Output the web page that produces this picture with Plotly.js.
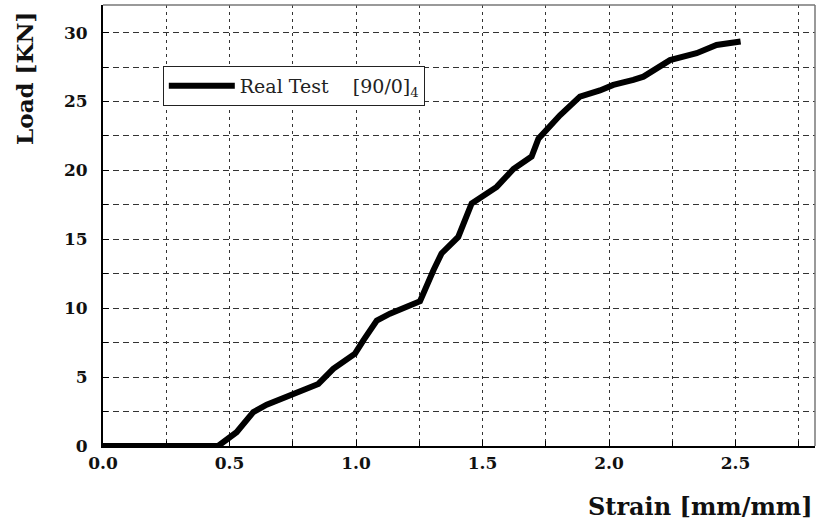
<!DOCTYPE html>
<html>
<head>
<meta charset="utf-8">
<script src="https://cdn.plot.ly/plotly-3.0.1.min.js"></script>
<style>html,body{margin:0;padding:0;background:#fff;}#chart{width:824px;height:529px;}</style>
</head>
<body>
<div id="chart"></div>
<script>
// Strain [mm/mm]
const strain = [0.0, 0.455, 0.528, 0.594, 0.647, 0.739, 0.851, 0.91, 0.996, 1.029, 1.082, 1.134, 1.253, 1.306, 1.338, 1.404, 1.457, 1.556, 1.622, 1.694, 1.721, 1.806, 1.885, 1.964, 2.017, 2.096, 2.136, 2.241, 2.346, 2.425, 2.52];
// Load [KN]
const load = [0.0, 0.0, 1.0, 2.46, 3.0, 3.67, 4.5, 5.6, 6.7, 7.67, 9.1, 9.6, 10.5, 12.75, 13.97, 15.17, 17.6, 18.8, 20.1, 21.0, 22.3, 24.0, 25.35, 25.8, 26.2, 26.56, 26.8, 28.0, 28.5, 29.1, 29.35];
const seriesName = 'Real Test&nbsp;&nbsp;&nbsp;&nbsp;[90/0]<sub>4</sub>';
const xTickVals = [0, 0.5, 1.0, 1.5, 2.0, 2.5];
const xTickText = ['0.0', '0.5', '1.0', '1.5', '2.0', '2.5'];
const yTickVals = [0, 5, 10, 15, 20, 25, 30];

const serif = 'DejaVu Serif, Liberation Serif, serif';

const trace = {
  x: strain, y: load, type: 'scatter', mode: 'lines', name: seriesName,
  line: {color: '#000', width: 6}, showlegend: true
};

const gridCol = '#333';
const layout = {
  width: 824, height: 529,
  margin: {l: 103, r: 9, t: 5, b: 83},
  paper_bgcolor: '#fff', plot_bgcolor: '#fff',
  font: {family: serif, color: '#111'},
  showlegend: true,
  legend: {
    x: 0.084, y: 0.862, xanchor: 'left', yanchor: 'top',
    bgcolor: '#fff', bordercolor: '#222', borderwidth: 1,
    font: {family: serif, size: 19, color: '#222'},
    itemwidth: 66, tracegroupgap: 0
  },
  xaxis: {
    range: [0, 2.814], tickvals: xTickVals, ticktext: xTickText,
    showgrid: true, gridcolor: gridCol, gridwidth: 1, griddash: '3px,4px',
    ticks: 'inside', ticklen: 6, tickcolor: '#000', tickwidth: 1,
    minor: {dtick: 0.25, tick0: 0, ticks: 'inside', ticklen: 5, tickcolor: '#000', showgrid: true, gridcolor: gridCol, gridwidth: 1, griddash: '3px,4px'},
    showline: true, linecolor: '#000', linewidth: 2, mirror: false,
    zeroline: false,
    tickfont: {family: serif, size: 17, color: '#111', weight: 'bold'},
    ticklabelstandoff: 1
  },
  yaxis: {
    range: [0, 32], tickvals: yTickVals,
    showgrid: true, gridcolor: gridCol, gridwidth: 1, griddash: '6px,4px',
    ticks: 'inside', ticklen: 6, tickcolor: '#000', tickwidth: 1,
    minor: {dtick: 2.5, tick0: 0, ticks: 'inside', ticklen: 5, tickcolor: '#000', showgrid: true, gridcolor: gridCol, gridwidth: 1, griddash: '6px,4px'},
    showline: true, linecolor: '#000', linewidth: 2, mirror: false,
    zeroline: false,
    tickfont: {family: serif, size: 17, color: '#111', weight: 'bold'},
    ticklabelstandoff: 10
  },
  shapes: [
    {type: 'line', xref: 'paper', yref: 'paper', x0: 0, x1: 1, y0: 1, y1: 1, line: {color: '#777', width: 1.5}},
    {type: 'line', xref: 'paper', yref: 'paper', x0: 1, x1: 1, y0: 0, y1: 1, line: {color: '#777', width: 1.5}}
  ],
  annotations: [
    {text: 'Load [KN]', xref: 'paper', yref: 'paper', x: -0.11, y: 0.834, xanchor: 'center', yanchor: 'middle',
     textangle: -90, showarrow: false, font: {family: serif, size: 23, color: '#111', weight: 'bold'}},
    {text: 'Strain [mm/mm]', xref: 'paper', yref: 'paper', x: 1.0, y: -0.138, xanchor: 'right', yanchor: 'middle',
     showarrow: false, font: {family: serif, size: 24, color: '#111', weight: 'bold'}}
  ]
};

Plotly.newPlot('chart', [trace], layout, {displayModeBar: false, staticPlot: true});
</script>
</body>
</html>
